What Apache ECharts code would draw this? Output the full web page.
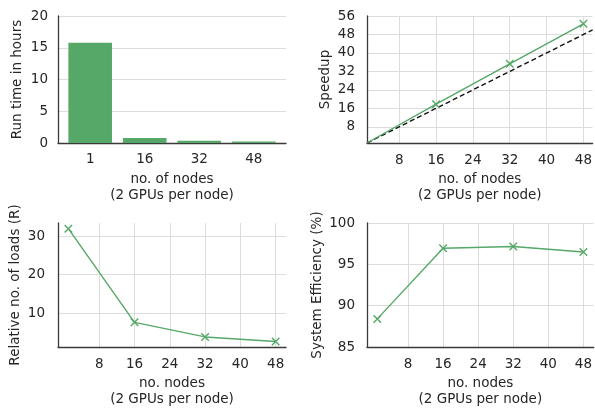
<!DOCTYPE html>
<html><head><meta charset="utf-8">
<script src="https://cdn.jsdelivr.net/npm/echarts@6/dist/echarts.min.js"></script>
<style>html,body{margin:0;padding:0;background:#fff}#c{width:595px;height:408px}</style>
</head><body><div id="c"></div>
<script>
// ---- data ----
const nodeCats = ['1', '16', '32', '48'];
const runTimeHours = [15.8, 0.8, 0.35, 0.25];
const nodes = [1, 16, 32, 48];
const speedup = [1, 17.8, 35.3, 52.6];
const idealX = [1, 50];
const idealY = [1, 50];
const relLoads = [32, 7.6, 3.8, 2.6];
const efficiency = [88.4, 96.95, 97.15, 96.5];
const xTicks = [8, 16, 24, 32, 40, 48];
const speedTicks = [8, 16, 24, 32, 40, 48, 56];
const loadTicks = [10, 20, 30];
const effTicks = [85, 90, 95, 100];

const GREEN = '#55a868';
const TXT = '#262626';
const FONT = 'DejaVu Sans';
const FS = 13.5;
const GRIDC = '#dcdcdc';
const SPINE = '#3a3a3a';
const XSYM = 'path://M0,0L10,10M10,0L0,10';

const el = document.getElementById('c');
const chart = echarts.init(el, null, {renderer: 'canvas'});

function axisBase() {
  return {
    axisLine: {show: true, onZero: false, lineStyle: {color: SPINE, width: 1.3}},
    axisTick: {show: false},
    axisLabel: {color: TXT, fontFamily: FONT, fontSize: FS},
    nameTextStyle: {color: TXT, fontFamily: FONT, fontSize: FS, lineHeight: 16},
    splitLine: {show: true, lineStyle: {color: GRIDC, width: 1}}
  };
}
function xVal(idx, min, max, name, ticks) {
  const a = axisBase();
  return Object.assign(a, {
    type: 'value', gridIndex: idx, min: min, max: max,
    name: name, nameLocation: 'middle', nameGap: 28,
    axisLabel: Object.assign(a.axisLabel, {customValues: ticks, margin: 10}),
    axisTick: {show: false, customValues: ticks}
  });
}
function yVal(idx, min, max, name, ticks, gap, margin) {
  const a = axisBase();
  return Object.assign(a, {
    type: 'value', gridIndex: idx, min: min, max: max,
    name: name, nameLocation: 'middle', nameGap: gap,
    axisLabel: Object.assign(a.axisLabel, {customValues: ticks, margin: margin}),
    axisTick: {show: false, customValues: ticks}
  });
}
function lineSeries(xi, ys, xs, hideFirst) {
  return {
    type: 'line', xAxisIndex: xi, yAxisIndex: xi,
    data: xs.map((x, i) => (hideFirst && i === 0) ? {value: [x, ys[i]], symbol: 'none'} : [x, ys[i]]),
    symbol: XSYM, symbolSize: 7.5,
    lineStyle: {color: GREEN, width: 1.4},
    itemStyle: {color: GREEN, borderColor: GREEN, borderWidth: 1.4},
    clip: false, z: 3
  };
}

const barX = xVal(0, -0.59, 3.59, 'no. of nodes\n(2 GPUs per node)', [0, 1, 2, 3]);
barX.splitLine = {show: false};
barX.axisLabel.margin = 9;
barX.axisLabel.formatter = function (v) { return nodeCats[Math.round(v)]; };

const option = {
  animation: false,
  backgroundColor: '#fff',
  textStyle: {fontFamily: FONT},
  grid: [
    {left: 58, top: 16, width: 228, height: 127},
    {left: 367, top: 16, width: 228, height: 127},
    {left: 58, top: 223, width: 228, height: 127},
    {left: 367, top: 223, width: 228, height: 128}
  ],
  xAxis: [
    barX,
    xVal(1, 1, 50, 'no. of nodes\n(2 GPUs per node)', xTicks),
    xVal(2, -1.35, 50.35, 'no. nodes\n(2 GPUs per node)', xTicks),
    xVal(3, -1.35, 50.35, 'no. nodes\n(2 GPUs per node)', xTicks)
  ],
  yAxis: [
    yVal(0, 0, 20, 'Run time in hours', [0, 5, 10, 15, 20], 33, 10),
    yVal(1, 1, 56, 'Speedup', speedTicks, 32, 12),
    yVal(2, 1.18, 33.47, 'Relative no. of loads (R)', loadTicks, 32, 13),
    yVal(3, 85, 100, 'System Efficiency (%)', effTicks, 41, 12)
  ],
  series: [
    {
      type: 'bar', xAxisIndex: 0, yAxisIndex: 0,
      data: runTimeHours.map((v, i) => [i, v]),
      barWidth: 43.6,
      itemStyle: {color: GREEN}
    },
    {
      type: 'line', xAxisIndex: 1, yAxisIndex: 1,
      data: idealX.map((x, i) => [x, idealY[i]]),
      symbol: 'none',
      lineStyle: {color: '#111', width: 1.4, type: [5, 3]},
      z: 2
    },
    lineSeries(1, speedup, nodes, true),
    lineSeries(2, relLoads, nodes, false),
    lineSeries(3, efficiency, nodes, false)
  ]
};
chart.setOption(option);
</script>
</body></html>
